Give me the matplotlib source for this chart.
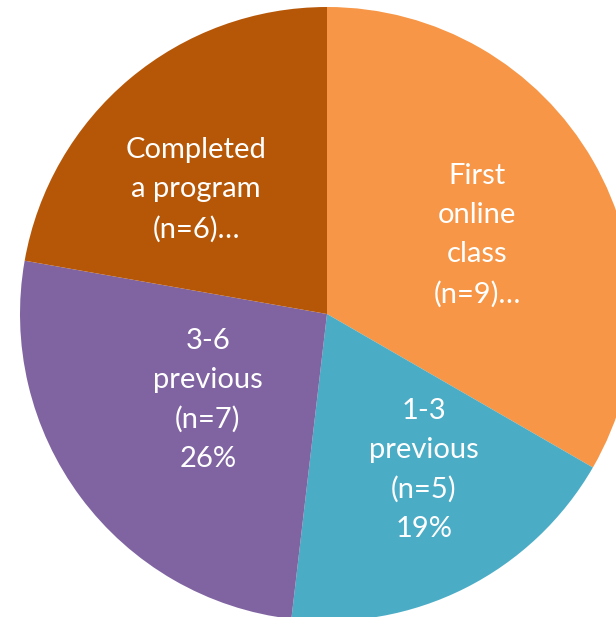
import matplotlib.pyplot as plt

# data
categories = ['First\nonline\nclass', '1-3\nprevious', '3-6\nprevious', 'Completed\na program']
counts = [9, 5, 7, 6]
colors = ['#F79646', '#4BACC6', '#8064A2', '#B65708']
truncated = [True, False, False, True]

W, H = 616, 617
fig = plt.figure(figsize=(W / 100, H / 100), dpi=100)
ax = fig.add_axes([0, 0, 1, 1])

ax.pie(counts, colors=colors, startangle=90, counterclock=False,
       center=(327, H - 314), radius=307, frame=True,
       wedgeprops={'linewidth': 0})
ax.set_xlim(0, W)
ax.set_ylim(0, H)
ax.set_aspect('equal')
ax.axis('off')

# label centers in pixel coords (from top-left)
label_pos = [(477, 235), (424, 470), (208, 400), (196, 190)]
total = sum(counts)
for cat, n, trunc, (x, y) in zip(categories, counts, truncated, label_pos):
    if trunc:
        txt = f"{cat}\n(n={n})…"
    else:
        txt = f"{cat}\n(n={n})\n{round(100 * n / total)}%"
    ax.text(x, H - y, txt, ha='center', va='center', color='white',
            fontsize=21, family='Lato', linespacing=1.62, multialignment='center')

fig.savefig('out.png', dpi=100)
